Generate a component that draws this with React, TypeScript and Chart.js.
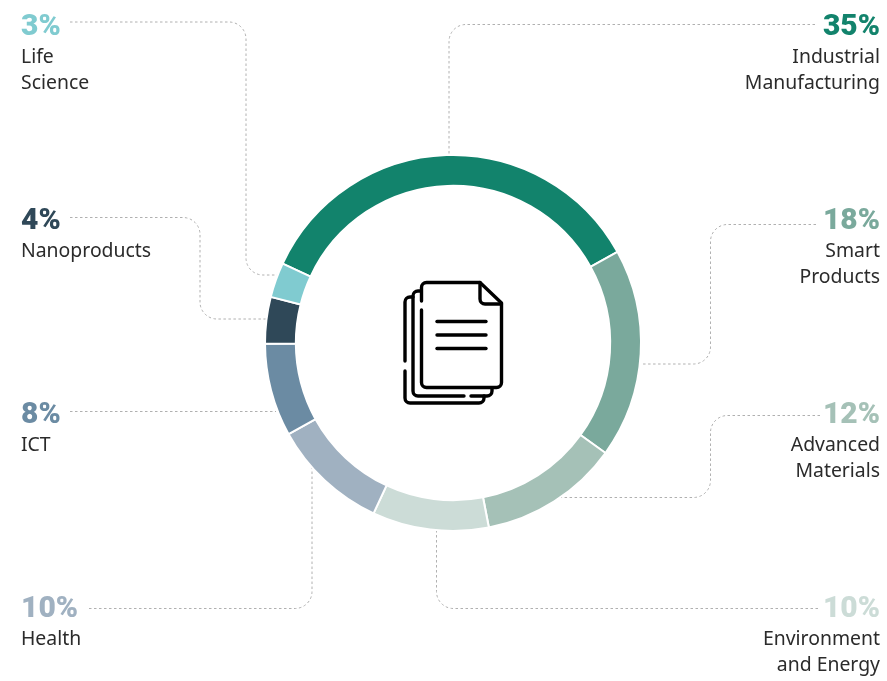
import React, { useEffect, useRef } from "react";
import { Chart, registerables } from "chart.js";

Chart.register(...registerables);

const categories = ["Industrial Manufacturing", "Smart Products", "Advanced Materials", "Environment and Energy", "Health", "ICT", "Nanoproducts", "Life Science"];
const values = [35, 18, 12, 10, 10, 8, 4, 3];
const colors = ["#12836c", "#7aa99c", "#a5c1b7", "#ccdcd7", "#a0b1c1", "#6b8ba3", "#2f4858", "#80cbd0"];

const TEXT_FONT = '19.4px "Noto Sans"';
const PCT_FONT = '900 30px Roboto';
const LABEL_COLOR = "#2b2b2b";

type Callout = { index: number; lines: string[]; side: "left" | "right"; x: number; y: number; path: [number, number, number?][] };

// path points: [x, y, cornerRadius]
const callouts: Callout[] = [
  { index: 7, lines: ["Life", "Science"], side: "left", x: 21, y: 35, path: [[70, 22], [246, 22, 17], [246, 275, 17], [279, 275]] },
  { index: 6, lines: ["Nanoproducts"], side: "left", x: 21, y: 229, path: [[70, 217.5], [200, 217.5, 17], [200, 319, 17], [267, 319]] },
  { index: 5, lines: ["ICT"], side: "left", x: 21, y: 423, path: [[70, 411.5], [276, 411.5]] },
  { index: 4, lines: ["Health"], side: "left", x: 21, y: 617, path: [[89, 608.5], [312, 608.5, 17], [312, 468]] },
  { index: 0, lines: ["Industrial", "Manufacturing"], side: "right", x: 880, y: 35, path: [[815, 24.5], [449, 24.5, 17], [449, 155]] },
  { index: 1, lines: ["Smart", "Products"], side: "right", x: 880, y: 229, path: [[816, 224.5], [710.5, 224.5, 17], [710.5, 364, 17], [641, 364]] },
  { index: 2, lines: ["Advanced", "Materials"], side: "right", x: 880, y: 423, path: [[820, 415.5], [710.5, 415.5, 17], [710.5, 497.5, 17], [560, 497.5]] },
  { index: 3, lines: ["Environment", "and Energy"], side: "right", x: 880, y: 617, path: [[818, 608.5], [436.5, 608.5, 17], [436.5, 530]] },
];

function drawIcon(ctx: CanvasRenderingContext2D) {
  ctx.save();
  ctx.strokeStyle = "#000";
  ctx.lineWidth = 3.4;
  ctx.lineCap = "round";
  ctx.lineJoin = "round";
  const stroke = (fn: () => void) => { ctx.beginPath(); fn(); ctx.stroke(); };
  // front sheet
  stroke(() => {
    ctx.moveTo(421.5, 310);
    ctx.lineTo(421.5, 382);
    ctx.arcTo(421.5, 387.5, 427, 387.5, 5);
    ctx.lineTo(496, 387.5);
    ctx.arcTo(501.5, 387.5, 501.5, 382, 5);
    ctx.lineTo(501.5, 303);
    ctx.lineTo(480, 282.5);
    ctx.lineTo(427, 282.5);
    ctx.arcTo(421.5, 282.5, 421.5, 288, 5);
    ctx.lineTo(421.5, 301);
  });
  // fold
  stroke(() => {
    ctx.moveTo(480, 282.5);
    ctx.lineTo(480, 298);
    ctx.arcTo(480, 304, 486, 304, 5);
    ctx.lineTo(501.5, 304);
  });
  // text lines
  for (const y of [321.5, 335, 348.5]) stroke(() => { ctx.moveTo(437, y); ctx.lineTo(486, y); });
  // middle sheet
  stroke(() => {
    ctx.moveTo(421, 291);
    ctx.lineTo(418, 291);
    ctx.arcTo(413, 291, 413, 296, 5);
    ctx.lineTo(413, 391);
    ctx.arcTo(413, 396, 418, 396, 5);
    ctx.lineTo(464, 396);
  });
  stroke(() => {
    ctx.moveTo(471, 396);
    ctx.lineTo(487, 396);
    ctx.arcTo(492, 396, 492, 391, 5);
    ctx.lineTo(492, 388);
  });
  // back sheet
  stroke(() => {
    ctx.moveTo(413, 297);
    ctx.lineTo(410, 297);
    ctx.arcTo(405, 297, 405, 302, 5);
    ctx.lineTo(405, 361);
  });
  stroke(() => {
    ctx.moveTo(405, 371);
    ctx.lineTo(405, 398);
    ctx.arcTo(405, 403, 410, 403, 5);
    ctx.lineTo(479, 403);
    ctx.arcTo(484, 403, 484, 398, 5);
    ctx.lineTo(484, 396);
  });
  ctx.restore();
}

const calloutPlugin = {
  id: "callouts",
  beforeDatasetsDraw(chart: Chart) {
    const { ctx } = chart;
    ctx.save();
    ctx.strokeStyle = "#b0b0b0";
    ctx.lineWidth = 1;
    ctx.setLineDash([2.5, 2.5]);
    for (const c of callouts) {
      ctx.beginPath();
      c.path.forEach((p, i) => {
        if (i === 0) { ctx.moveTo(p[0], p[1]); return; }
        const next = c.path[i + 1];
        if (p[2] && next) ctx.arcTo(p[0], p[1], next[0], next[1], p[2]);
        else ctx.lineTo(p[0], p[1]);
      });
      ctx.stroke();
    }
    ctx.restore();
  },
  afterDraw(chart: Chart) {
    const { ctx } = chart;
    ctx.save();
    ctx.textBaseline = "alphabetic";
    for (const c of callouts) {
      ctx.textAlign = c.side;
      ctx.font = PCT_FONT;
      ctx.fillStyle = colors[c.index];
      ctx.fillText(`${values[c.index]}%`, c.x, c.y);
      ctx.font = TEXT_FONT;
      ctx.fillStyle = LABEL_COLOR;
      c.lines.forEach((l, i) => ctx.fillText(l, c.x, c.y + 28 + i * 26));
    }
    ctx.restore();
    drawIcon(ctx);
  },
};

export default function App() {
  const ref = useRef<HTMLCanvasElement>(null);
  useEffect(() => {
    document.body.style.margin = "0";
    document.body.style.background = "#fff";
    const chart = new Chart(ref.current!, {
      type: "doughnut",
      data: {
        labels: categories,
        datasets: [{ data: values, backgroundColor: colors, borderColor: "#fff", borderWidth: 2 }],
      },
      options: {
        responsive: false,
        animation: false,
        rotation: -65,
        cutout: "83.6%",
        layout: { padding: { left: 264, right: 245, top: 154, bottom: 149 } },
        plugins: { legend: { display: false }, tooltip: { enabled: false } },
      },
      plugins: [calloutPlugin],
    });
    return () => chart.destroy();
  }, []);
  return <canvas ref={ref} width={887} height={681} style={{ display: "block" }} />;
}
